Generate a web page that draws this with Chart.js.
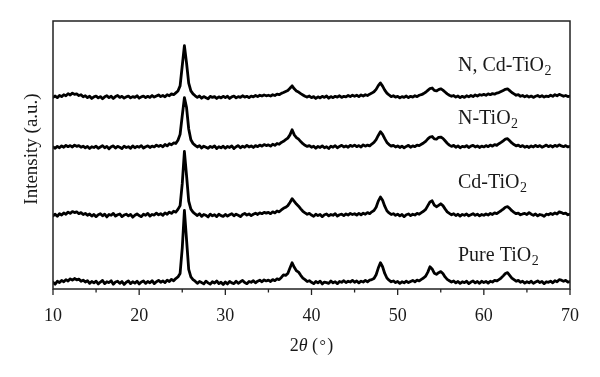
<!DOCTYPE html>
<html>
<head>
<meta charset="utf-8">
<script src="https://cdn.jsdelivr.net/npm/chart.js@4"></script>
<style>
html,body{margin:0;padding:0;background:#fff;}
#wrap{width:600px;height:377px;position:relative;}
</style>
</head>
<body>
<div id="wrap"><canvas id="c" width="600" height="377"></canvas></div>
<script>
// 2θ sampling grid: 10° to 70°, 0.25° steps
const angleStart = 10;
const angleStep = 0.25;

const seriesNames = ["Pure TiO2", "Cd-TiO2", "N-TiO2", "N, Cd-TiO2"];
const seriesOffsets = [2.3, 27.3, 52.7, 71.3];

const pureTiO2 = [
0.2,-0.5,0.6,0.1,0.9,0.4,1.2,0.7,1.5,1.0,1.6,1.1,1.4,0.6,1.0,0.3,0.8,-0.2,0.5,0.0,
0.6,-0.4,0.3,0.9,-0.3,0.4,0.1,0.8,-0.5,0.3,0.6,-0.2,0.5,-0.6,0.2,0.7,-0.3,0.4,-0.1,0.6,
-0.4,0.3,0.7,-0.2,0.5,0.0,0.8,-0.3,0.4,0.9,0.2,0.7,0.1,1.0,0.5,1.3,0.8,1.6,2.2,3.5,
13,27,16,5,2.2,1.2,0.6,-0.2,0.5,0.1,-0.4,0.6,0.0,-0.5,0.4,-0.1,0.7,-0.3,0.2,-0.6,
0.3,-0.4,0.5,0.0,-0.3,0.6,-0.2,0.4,0.9,0.1,-0.3,0.5,0.2,0.8,0.0,0.6,1.0,0.4,1.1,0.7,
1.0,0.5,1.2,0.8,1.5,1.2,2.0,3.0,2.8,3.5,5.5,7.5,5.8,4.5,4.0,2.8,1.8,1.2,0.5,0.8,
0.2,-0.3,0.5,0.0,0.6,-0.4,0.3,0.1,-0.2,0.7,0.0,0.4,-0.3,0.5,0.2,0.8,0.1,0.6,0.3,0.9,
0.2,0.7,0.0,0.6,0.3,0.9,0.4,1.0,1.2,1.6,3.0,5.5,7.5,6.0,3.5,1.8,1.0,0.4,0.7,0.1,
0.5,-0.2,0.4,0.0,0.6,0.1,0.5,0.9,0.4,1.0,0.7,1.3,1.8,2.5,4.0,6.0,5.2,3.6,3.2,3.8,
4.2,3.5,2.2,1.3,0.8,0.3,0.7,0.0,0.5,-0.2,0.4,0.1,0.6,-0.3,0.3,0.7,0.0,0.5,-0.2,0.6,
0.1,0.5,-0.1,0.6,0.3,0.9,0.7,1.2,1.8,2.6,3.5,3.8,2.8,1.8,1.2,0.6,0.9,0.2,0.6,-0.1,
0.4,0.0,0.6,-0.2,0.3,0.7,0.1,0.5,-0.3,0.4,0.2,0.6,0.0,0.8,0.4,1.2,1.0,0.6,0.9,0.3,
0.5];

const cdTiO2 = [
0.0,0.6,-0.2,0.8,0.3,1.1,0.6,1.4,0.9,1.6,1.2,1.5,0.8,1.2,0.5,0.9,0.2,0.7,-0.1,0.5,
-0.3,0.4,0.8,0.0,0.6,-0.4,0.5,0.2,0.9,-0.1,0.4,0.7,-0.3,0.3,0.6,0.0,0.5,-0.5,0.2,0.7,
0.1,-0.3,0.6,0.2,0.9,-0.1,0.5,0.3,1.0,0.4,0.8,0.2,1.1,0.6,1.4,0.9,1.7,1.4,2.4,3.8,
12,24,15,5.5,2.5,1.4,0.7,0.1,0.8,-0.2,0.5,0.2,-0.4,0.6,0.0,0.4,-0.3,0.6,0.1,-0.2,
0.5,-0.1,0.4,0.8,0.0,0.6,0.2,-0.3,0.5,0.9,0.3,0.7,0.1,0.6,1.0,0.5,1.1,0.8,1.3,1.0,
1.3,0.8,1.5,1.1,1.8,1.5,2.2,2.8,3.2,3.8,5.0,6.4,5.4,4.4,3.6,2.6,1.7,1.1,0.6,0.9,
0.3,-0.2,0.6,0.1,0.5,-0.3,0.4,0.7,0.0,0.5,0.2,0.8,-0.1,0.4,0.6,0.1,0.7,0.3,0.9,0.5,
0.8,0.3,0.9,0.4,1.0,0.6,1.2,0.8,1.5,2.0,3.2,5.5,7.0,5.8,3.6,1.9,1.1,0.5,0.8,0.2,
0.6,0.0,0.5,-0.3,0.4,0.7,0.1,0.6,0.3,0.9,0.6,1.2,1.7,2.4,3.8,5.2,5.6,4.0,3.4,3.9,
4.5,3.8,2.6,1.5,0.9,0.4,0.8,0.1,0.6,-0.1,0.5,0.2,0.7,0.0,0.4,0.8,0.2,0.6,0.0,0.5,
0.2,0.7,0.3,0.9,0.5,1.1,0.8,1.4,1.9,2.5,3.2,3.4,2.8,1.9,1.3,0.8,1.0,0.4,0.7,0.9,
0.5,1.2,0.6,0.2,0.7,0.0,0.5,0.3,-0.2,0.6,0.4,0.9,0.5,1.1,0.7,1.5,1.2,0.8,1.0,0.4,
0.6];

const nTiO2 = [
0.3,-0.2,0.5,0.0,0.7,0.2,0.9,0.4,0.8,0.3,1.0,0.5,0.8,0.2,0.6,0.0,0.5,-0.3,0.4,0.1,
0.6,-0.2,0.3,0.8,0.0,0.5,-0.4,0.4,0.7,-0.1,0.5,0.2,-0.3,0.6,0.1,0.4,-0.2,0.7,0.0,0.5,
0.2,0.8,-0.1,0.4,0.7,0.1,0.6,0.3,1.0,0.5,0.9,0.4,1.2,0.7,1.5,1.1,1.8,1.6,2.8,5.0,
12,18.7,15,7,3,1.6,0.9,0.3,0.8,-0.1,0.6,0.2,-0.2,0.5,0.1,0.7,-0.3,0.4,0.0,0.6,
-0.2,0.5,0.1,0.7,-0.3,0.4,0.8,0.0,0.6,0.2,0.9,0.3,0.7,0.1,0.8,0.4,1.0,0.6,1.2,0.8,
1.1,0.6,1.3,0.9,1.6,1.3,2.0,2.4,3.0,3.6,4.8,6.7,4.8,3.8,3.2,2.3,1.5,0.9,0.5,0.8,
0.2,0.6,-0.2,0.5,0.1,0.7,0.0,0.4,-0.3,0.6,0.2,0.8,0.0,0.5,0.9,0.3,0.7,0.2,0.9,0.5,
1.0,0.4,0.8,0.3,1.1,0.6,1.0,0.7,1.4,2.0,3.0,4.6,6.0,5.0,3.4,2.0,1.2,0.6,0.9,0.3,
0.7,0.1,0.6,0.0,0.5,0.9,0.2,0.7,0.4,1.0,0.8,1.3,1.8,2.4,3.3,4.0,4.2,3.3,3.2,3.9,
4.0,3.5,2.6,1.7,1.0,0.5,0.9,0.2,0.7,0.0,0.5,0.3,0.8,0.1,0.6,0.9,0.3,0.7,0.1,0.6,
0.3,0.8,0.4,1.0,0.6,1.2,0.9,1.5,2.0,2.6,3.2,3.4,2.6,1.8,1.2,0.7,1.0,0.4,0.8,0.2,
0.6,0.1,0.7,0.3,0.9,0.4,0.8,0.2,0.6,1.0,0.4,0.8,0.3,0.9,0.5,1.1,0.7,0.4,0.8,0.3,
0.5];

const nCdTiO2 = [
0.2,0.7,0.1,0.9,0.5,1.2,0.8,1.6,1.1,1.8,1.3,1.5,0.9,1.2,0.4,0.8,0.1,0.6,-0.2,0.4,
0.7,0.0,0.5,-0.3,0.4,0.8,0.1,0.6,-0.2,0.5,0.9,0.2,0.6,-0.1,0.4,0.7,0.0,0.5,0.2,0.8,
-0.1,0.4,0.7,0.1,0.6,0.2,0.9,0.3,0.7,1.1,0.5,0.9,0.4,1.2,0.8,1.5,1.2,1.9,2.6,4.5,
12,19.5,13,5.5,2.6,1.5,0.8,0.2,0.7,-0.1,0.5,0.1,-0.3,0.6,0.2,0.5,-0.2,0.4,0.0,0.6,
0.1,0.6,-0.2,0.4,0.7,0.0,0.5,0.2,0.8,0.3,0.6,0.1,0.7,0.4,0.9,0.5,1.0,0.7,1.1,0.8,
1.0,0.7,1.2,0.9,1.4,1.2,1.7,2.0,2.4,2.8,3.6,4.5,3.4,2.6,2.2,1.6,1.1,0.6,0.3,0.7,
0.1,0.5,-0.2,0.4,0.0,0.6,0.2,0.7,-0.1,0.5,0.1,0.6,0.3,0.8,0.2,0.6,0.4,0.9,0.5,1.0,
0.6,1.0,0.5,1.1,0.7,1.2,0.9,1.4,1.8,2.3,3.2,4.6,5.6,4.4,2.9,1.8,1.1,0.5,0.8,0.3,
0.6,0.0,0.5,0.2,0.7,0.1,0.6,0.3,0.8,0.5,1.0,1.2,1.6,2.1,2.8,3.5,3.7,2.8,2.6,3.1,
3.4,2.9,2.2,1.5,1.0,0.6,0.9,0.3,0.7,0.1,0.6,0.2,0.8,0.4,0.9,0.5,1.1,0.7,1.2,1.0,
1.3,1.0,1.5,1.2,1.6,1.4,1.8,2.0,2.4,2.8,3.2,3.4,2.7,2.0,1.5,1.0,1.2,0.6,0.9,0.4,
0.8,0.3,0.7,0.2,0.6,0.9,0.4,0.8,0.3,0.7,0.5,1.0,0.6,1.2,0.8,1.3,1.0,0.6,0.9,0.5,
0.7];

const xTicks = [10, 20, 30, 40, 50, 60, 70];
const seriesValues = [pureTiO2, cdTiO2, nTiO2, nCdTiO2];

const FONT = "'Liberation Serif', 'Times New Roman', serif";
const INK = "#1a1a1a";

function buildPoints(values, offset) {
  return values.map((v, i) => ({ x: angleStart + i * angleStep, y: v + offset }));
}

const datasets = seriesValues.map((vals, k) => ({
  label: seriesNames[k],
  data: buildPoints(vals, seriesOffsets[k]),
  borderColor: "#000",
  borderWidth: 2.8,
  borderJoinStyle: "round",
  borderCapStyle: "round",
  pointRadius: 0,
  tension: 0,
  fill: false
}));

// label anchors (in data units): x in degrees, y baseline in intensity units
const labelAnchors = [
  { x: 57.0, y: 10.4 },
  { x: 57.0, y: 37.7 },
  { x: 57.0, y: 61.6 },
  { x: 57.0, y: 81.3 }
];

const decorPlugin = {
  id: "decor",
  afterDraw(chart) {
    const ctx = chart.ctx;
    const a = chart.chartArea;
    const xs = chart.scales.x, ys = chart.scales.y;
    ctx.save();
    // frame
    ctx.strokeStyle = "#222";
    ctx.lineWidth = 1.5;
    ctx.strokeRect(a.left, a.top, a.right - a.left, a.bottom - a.top);
    // ticks (major every 10, minor every 5), pointing outward
    ctx.lineWidth = 1.3;
    for (let v = 10; v <= 70; v += 5) {
      const px = xs.getPixelForValue(v);
      const len = (v % 10 === 0) ? 6 : 3.5;
      ctx.beginPath();
      ctx.moveTo(px, a.bottom);
      ctx.lineTo(px, a.bottom + len);
      ctx.stroke();
    }
    // tick labels
    ctx.fillStyle = INK;
    ctx.font = "18px " + FONT;
    ctx.textAlign = "center";
    ctx.textBaseline = "middle";
    xTicks.forEach(t => {
      ctx.fillText(String(t), xs.getPixelForValue(t), 316);
    });
    // x title: 2θ (°) with italic θ
    const parts = [
      { t: "2", f: "18px " + FONT },
      { t: "θ", f: "italic 18px " + FONT },
      { t: " (", f: "18px " + FONT },
      { t: "°", f: "16px " + FONT },
      { t: ")", f: "18px " + FONT }
    ];
    let w = 0;
    parts.forEach(p => { ctx.font = p.f; w += ctx.measureText(p.t).width + (p.t === "°" ? 3 : 0); });
    let cx = (a.left + a.right) / 2 - w / 2;
    ctx.textAlign = "left";
    ctx.textBaseline = "alphabetic";
    parts.forEach(p => {
      ctx.font = p.f;
      if (p.t === "°") {
        ctx.fillText(p.t, cx + 1.5, 351);
        cx += ctx.measureText(p.t).width + 3;
      } else {
        ctx.fillText(p.t, cx, 351);
        cx += ctx.measureText(p.t).width;
      }
    });
    // y title
    ctx.save();
    ctx.translate(32, (a.top + a.bottom) / 2 - 6);
    ctx.rotate(-Math.PI / 2);
    ctx.font = "19px " + FONT;
    ctx.textAlign = "center";
    ctx.textBaseline = "middle";
    ctx.fillText("Intensity (a.u.)", 0, 0);
    ctx.restore();
    // series labels with subscript 2
    seriesNames.forEach((name, k) => {
      const base = name.slice(0, -1);
      const px = xs.getPixelForValue(labelAnchors[k].x);
      const py = ys.getPixelForValue(labelAnchors[k].y);
      ctx.font = "20px " + FONT;
      ctx.textAlign = "left";
      ctx.textBaseline = "alphabetic";
      ctx.fillText(base, px, py);
      const bw = ctx.measureText(base).width;
      ctx.font = "14px " + FONT;
      ctx.fillText("2", px + bw + 0.5, py + 4);
    });
    ctx.restore();
  }
};

new Chart(document.getElementById("c"), {
  type: "line",
  data: { datasets },
  options: {
    responsive: false,
    animation: false,
    events: [],
    layout: { padding: { left: 53, right: 30, top: 21, bottom: 0 } },
    plugins: { legend: { display: false }, tooltip: { enabled: false } },
    scales: {
      x: {
        type: "linear",
        min: 10, max: 70,
        grid: { display: false, drawTicks: false },
        border: { display: false },
        ticks: { display: false },
        afterFit(scale) { scale.height = 377 - 289; }
      },
      y: {
        display: false,
        min: 0, max: 100
      }
    }
  },
  plugins: [decorPlugin]
});
</script>
</body>
</html>
